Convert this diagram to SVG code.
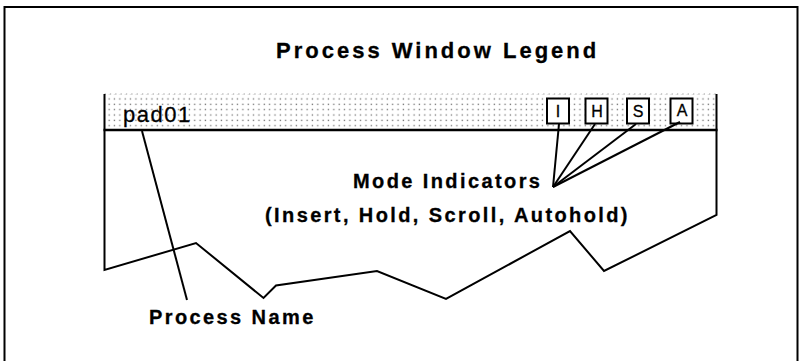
<svg xmlns="http://www.w3.org/2000/svg" width="800" height="361" viewBox="0 0 800 361">
  <style>
    .line { fill: none; stroke: #000; stroke-width: 2; stroke-linejoin: miter; }
    .label { font-family: "Liberation Sans", Arial, sans-serif; font-weight: bold; font-size: 20px; letter-spacing: 2.4px; fill: #000; stroke: #000; stroke-width: 0.3px; }
    .title { font-size: 22px; letter-spacing: 3px; }
    .name { font-family: "Liberation Sans", Arial, sans-serif; font-size: 22px; letter-spacing: 1.5px; fill: #000; stroke: #000; stroke-width: 0.3px; }
    .mode-box { fill: #fff; stroke: #000; stroke-width: 2; }
    .mode-letter { font-family: "Liberation Sans", Arial, sans-serif; font-size: 16px; text-anchor: middle; fill: #000; stroke: #000; stroke-width: 0.3px; }
  </style>
  <defs>
    <!-- stipple used for the window title bar -->
    <pattern id="stipple" x="0" y="0.5" width="5.35" height="5.35" patternUnits="userSpaceOnUse">
      <rect x="1.5" y="1.5" width="1.3" height="1.3" fill="#6e6e6e"/>
    </pattern>
  </defs>

  <rect width="800" height="361" fill="#fff"/>

  <!-- outer frame, open at the bottom -->
  <path class="line" d="M4.5,366 V7 H797.5 V366"/>

  <text class="label title" x="276" y="58">Process Window Legend</text>

  <!-- process window with torn lower edge -->
  <g id="process-window">
    <rect x="104.5" y="94" width="612" height="36" fill="url(#stipple)"/>
    <line x1="104.5" y1="94" x2="716.5" y2="94" stroke="#9a9a9a" stroke-width="1" stroke-dasharray="1.3 4.05"/>
    <polyline class="line" points="104.5,94 104.5,270 196,243 263.5,298 276,285.5 377,271 446,299 570,231 604,271 716.5,215 716.5,94"/>
    <line x1="103.5" y1="130" x2="717.5" y2="130" stroke="#000" stroke-width="2.5"/>
    <text class="name" x="123" y="122">pad01</text>
  </g>

  <g id="mode-indicators">
    <rect class="mode-box" x="547" y="98.5" width="22" height="25"/>
    <text class="mode-letter" x="558" y="117">I</text>
    <rect class="mode-box" x="585.5" y="98.5" width="22" height="25"/>
    <text class="mode-letter" x="597" y="117">H</text>
    <rect class="mode-box" x="627" y="98.5" width="22" height="25"/>
    <text class="mode-letter" x="638" y="117">S</text>
    <rect class="mode-box" x="670.5" y="98.5" width="22" height="25"/>
    <text class="mode-letter" x="682" y="116">A</text>
  </g>

  <g id="connectors">
    <line class="line" x1="559" y1="124" x2="553" y2="187"/>
    <line class="line" x1="595" y1="124" x2="553" y2="187"/>
    <line class="line" x1="636" y1="124" x2="553" y2="187"/>
    <line class="line" x1="680" y1="122" x2="553" y2="187"/>
    <line class="line" x1="142" y1="131" x2="187" y2="300"/>
  </g>

  <g id="mode-label">
    <text class="label" x="353" y="188">Mode Indicators</text>
    <text class="label" x="265" y="222">(Insert, Hold, Scroll, Autohold)</text>
  </g>

  <g id="name-label">
    <text class="label" x="149" y="324">Process Name</text>
  </g>
</svg>
